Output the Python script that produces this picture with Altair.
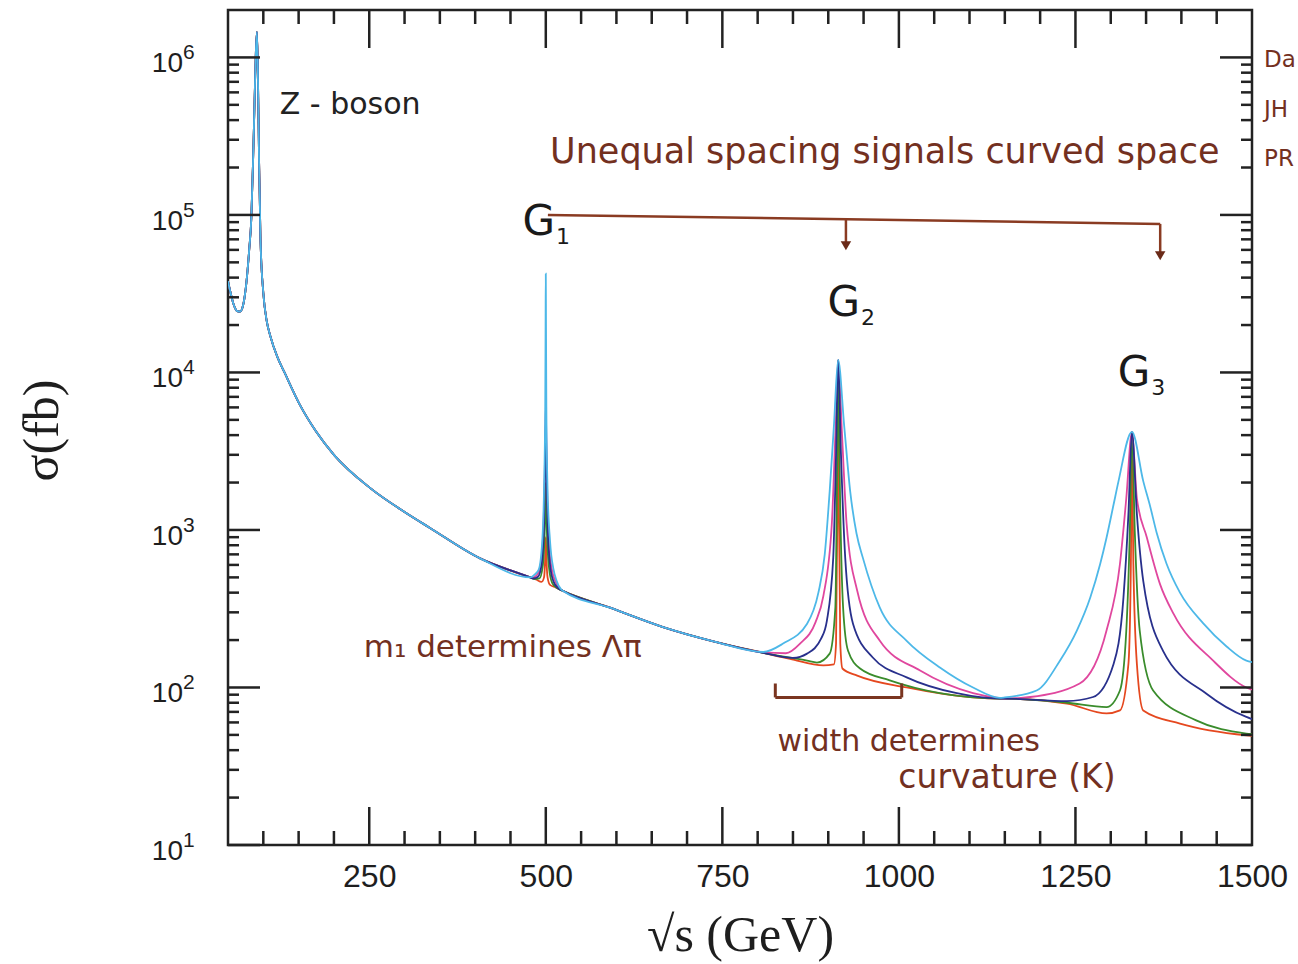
import altair as alt
import pandas as pd

# ---------------- data: sqrt(s) [GeV], sigma [fb] ----------------
# shared Drell-Yan background (incl. Z peak)
bg = [(50, 38000), (53, 33000), (58, 27000), (63, 24500), (67, 24300), (72, 27500),
      (76, 37000), (80, 60000), (83, 95000), (85.5, 220000), (87.5, 500000),
      (89.5, 1100000), (91, 1450000), (92.5, 700000), (94, 220000), (96, 70000),
      (100, 32000), (105, 21000), (110, 17000), (120, 12500), (130, 10000),
      (152, 6200), (175, 4200), (200, 3000), (251, 1850), (300, 1300), (336, 1030),
      (407, 660), (478, 500), (524, 411), (591, 321), (666, 242), (740, 195),
      (808, 166), (870, 148), (941, 122), (1011, 104), (1105, 90), (1143, 86),
      (1200, 82), (1238, 79), (1300, 70), (1400, 59), (1500, 49.5)]

# first graviton resonance G1 (~500 GeV)
cyan_g1 = [(478, 500), (485, 525), (490, 560), (495, 851), (497.5, 1800), (499.2, 6000),
           (499.7, 20000), (500, 42400), (500.3, 20000), (500.8, 6000), (502.5, 1800),
           (506, 851), (511, 560), (515, 480), (522, 418)]
magenta_g1 = [(480, 496), (487, 515), (492, 580), (496, 900), (498.3, 2000), (499.5, 4500),
              (500, 6000), (500.5, 4500), (501.7, 2000), (504, 900), (508, 580), (513, 480),
              (520, 422)]
navy_g1 = [(482, 492), (489, 505), (494, 600), (497.5, 1100), (499.3, 3000), (500, 5000),
           (500.7, 3000), (502.5, 1100), (506, 600), (511, 470), (518, 425)]
green_g1 = [(484, 488), (491, 492), (495.5, 580), (498.5, 1000), (500, 2000), (501.5, 1000),
            (504.5, 580), (509, 462), (516, 428)]
red_g1 = [(486, 485), (494, 468), (497.5, 500), (499.3, 700), (500, 900), (500.7, 700),
          (502.5, 500), (506, 448), (514, 432)]

# second resonance G2 (~914 GeV)
cyan_g2 = [(808, 168), (836, 190), (870, 254), (886, 400), (895, 700), (902, 1766),
           (908, 4600), (914, 12000), (922.5, 4600), (931, 1766), (940, 950), (949, 665),
           (973, 321), (1011, 198), (1058, 134), (1105, 100), (1143, 86)]
magenta_g2 = [(808, 167), (840, 165), (860, 190), (882, 260), (893, 380), (905, 1091),
              (910, 4000), (914, 12000), (919.5, 4000), (926, 1091), (941, 411), (973, 198),
              (1030, 128), (1105, 92), (1143, 85.5)]
navy_g2 = [(808, 166), (850, 154), (870, 164), (890, 205), (898, 265), (907, 665),
           (911, 3000), (914, 12000), (918, 3000), (924, 665), (935, 254), (963, 155),
           (1011, 116), (1082, 92), (1143, 85)]
green_g2 = [(808, 166), (870, 148), (884, 144), (902, 164), (910, 321), (912.5, 2500),
            (914, 12000), (916, 2500), (921, 321), (928, 171), (945, 132), (987, 111),
            (1058, 92), (1143, 85)]
red_g2 = [(808, 166), (846, 152), (893, 138), (908, 140), (911, 190), (913, 1500),
          (914, 10000), (915, 1500), (917, 190), (920, 132), (941, 119), (1011, 100),
          (1105, 86.5), (1143, 85)]

# third resonance G3 (~1330 GeV)
cyan_g3 = [(1150, 86.5), (1195, 95.7), (1228, 148), (1252, 230), (1271, 373), (1285, 608),
           (1294, 893), (1304, 1450), (1311, 2042), (1330, 4200), (1346, 2042), (1356, 1400),
           (1365, 960), (1379, 610), (1398, 400), (1431, 255), (1464, 182), (1492, 148),
           (1500, 145)]
magenta_g3 = [(1150, 85), (1186, 87), (1256, 106), (1294, 230), (1313, 608), (1322, 1590),
              (1330, 4200), (1337, 1590), (1351, 900), (1370, 450), (1389, 293), (1445, 148),
              (1492, 100), (1500, 97)]
navy_g3 = [(1150, 85), (1238, 82), (1275, 87), (1304, 141), (1318, 373), (1325, 1260),
           (1330, 4200), (1337, 1260), (1346, 475), (1374, 171), (1436, 91), (1492, 65),
           (1500, 63)]
green_g3 = [(1150, 85), (1238, 80), (1294, 75), (1313, 95.7), (1322, 230), (1327, 986),
            (1330, 4200), (1334, 986), (1341, 230), (1360, 95.7), (1421, 61.8), (1492, 51),
            (1500, 50.5)]
red_g3 = [(1150, 85), (1238, 79), (1294, 68.4), (1313, 71.5), (1325, 141), (1328.5, 608),
          (1330, 3800), (1332, 608), (1337, 141), (1346, 71.5), (1398, 59), (1492, 49.7),
          (1500, 49.3)]

# axis ticks / labels
x_label_values = [250, 500, 750, 1000, 1250, 1500]
x_major_ticks = [250, 500, 750, 1000, 1250]
x_minor_ticks = [100, 150, 200, 300, 350, 400, 450, 550, 600, 650, 700, 800, 850, 900, 950,
                 1050, 1100, 1150, 1200, 1300, 1350, 1400, 1450]
y_major_ticks = [10, 100, 1000, 10000, 100000, 1000000]
y_exponents = ["1", "2", "3", "4", "5", "6"]
y_minor_ticks = [20, 30, 40, 50, 60, 70, 80, 90,
                 200, 300, 400, 500, 600, 700, 800, 900,
                 2000, 3000, 4000, 5000, 6000, 7000, 8000, 9000,
                 20000, 30000, 40000, 50000, 60000, 70000, 80000, 90000,
                 200000, 300000, 400000, 500000, 600000, 700000, 800000, 900000]

# ---------------- helpers ----------------
W, H = 1024, 835
XS = alt.Scale(domain=[50, 1500], nice=False, zero=False)
YS = alt.Scale(type="log", domain=[10, 2e6], nice=False)
X_AX = alt.Axis(values=x_label_values, format="d", labelFontSize=32,
                labelFont="Liberation Sans", labelColor="#1e1e1e", tickSize=0, domain=False,
                grid=False, labelPadding=16, labelFlush=False, title="√s (GeV)",
                titleFont="Liberation Serif", titleFontSize=50, titleFontWeight="normal",
                titleColor="#1e1e1e", titleX=512, titleY=90, titleBaseline="middle",
                titleAlign="center")
Y_AX = alt.Axis(labels=False, ticks=False, domain=False, grid=False, title="σ(fb)",
                titleFont="Liberation Serif", titleFontSize=50, titleFontWeight="normal",
                titleColor="#1e1e1e", titleX=-186, titleY=420, titleAngle=270,
                titleBaseline="middle", titleAlign="center")

def X(f="x"):
    return alt.X(f"{f}:Q", scale=XS, axis=X_AX)

def Y(f="y"):
    return alt.Y(f"{f}:Q", scale=YS, axis=Y_AX)

def build(peaks):
    wins = [(p[0][0], p[-1][0]) for p in peaks]
    pts = [pt for pt in bg if not any(a <= pt[0] <= b for a, b in wins)]
    for p in peaks:
        pts += p
    pts.sort()
    return pd.DataFrame(pts, columns=["x", "y"])

curves = [
    ("#e5481f", [red_g1, red_g2, red_g3]),
    ("#3a8c2c", [green_g1, green_g2, green_g3]),
    ("#e0479e", [magenta_g1, magenta_g2, magenta_g3]),
    ("#28308c", [navy_g1, navy_g2, navy_g3]),
    ("#4db8e8", [cyan_g1, cyan_g2, cyan_g3]),
]

layers = []
for col, peaks in curves:
    layers.append(alt.Chart(build(peaks)).mark_line(color=col, strokeWidth=1.8,
                  interpolate="monotone", clip=True).encode(x=X(), y=Y()))

# ---------------- inward ticks on all four sides ----------------
TK = "#222222"
ymaj = pd.DataFrame({"v": y_major_ticks, "base": ["10"] * 6, "exp": y_exponents})
ymin = pd.DataFrame({"v": y_minor_ticks})
xmaj = pd.DataFrame({"v": x_major_ticks})
xmin = pd.DataFrame({"v": x_minor_ticks})
for df, ln in ((ymaj, 32), (ymin, 11)):
    layers.append(alt.Chart(df).mark_rule(color=TK, strokeWidth=2.5).encode(
        y=Y("v"), x=alt.value(0), x2=alt.value(ln)))
    layers.append(alt.Chart(df).mark_rule(color=TK, strokeWidth=2.5).encode(
        y=Y("v"), x=alt.value(W - ln), x2=alt.value(W)))
for df, ln in ((xmaj, 38), (xmin, 14)):
    layers.append(alt.Chart(df).mark_rule(color=TK, strokeWidth=2.5).encode(
        x=X("v"), y=alt.value(H - ln), y2=alt.value(H)))
    layers.append(alt.Chart(df).mark_rule(color=TK, strokeWidth=2.5).encode(
        x=X("v"), y=alt.value(0), y2=alt.value(ln)))

# y tick labels 10^n
layers.append(alt.Chart(ymaj).mark_text(align="right", baseline="alphabetic", fontSize=28,
              font="Liberation Sans", color="#1e1e1e", dy=15).encode(
    y=Y("v"), x=alt.value(-45), text="base:N"))
layers.append(alt.Chart(ymaj).mark_text(align="left", baseline="alphabetic", fontSize=21,
              font="Liberation Sans", color="#1e1e1e", dy=2).encode(
    y=Y("v"), x=alt.value(-45), text="exp:N"))

# ---------------- annotations ----------------
BROWN = "#73301f"
black_notes = pd.DataFrame({"t": ["Z - boson"], "x": [223], "y": [497000]})
layers.append(alt.Chart(black_notes).mark_text(font="DejaVu Sans", fontSize=30,
              color="#222222").encode(x=X(), y=Y(), text="t:N"))

g_notes = pd.DataFrame({"t": ["G", "G", "G"], "sub": ["1", "2", "3"],
                        "x": [513, 945, 1356], "y": [90300, 27400, 9860]})
layers.append(alt.Chart(g_notes).mark_text(font="DejaVu Sans", fontSize=42, align="right",
              baseline="middle", color="#1a1a1a").encode(x=X(), y=Y(), text="t:N"))
layers.append(alt.Chart(g_notes).mark_text(font="DejaVu Sans", fontSize=22, align="left",
              baseline="middle", dx=1, dy=15, color="#1a1a1a").encode(
    x=X(), y=Y(), text="sub:N"))

brown_notes = pd.DataFrame({
    "t": ["Unequal spacing signals curved space", "m₁ determines Λπ",
          "width determines", "curvature (K)"],
    "x": [980, 439, 1014, 1153],
    "y": [250000, 177, 44.9, 26.5],
    "s": [35, 31, 30, 33]})
for _, r in brown_notes.iterrows():
    layers.append(alt.Chart(pd.DataFrame([r])).mark_text(font="DejaVu Sans",
                  fontSize=int(r["s"]), color=BROWN).encode(x=X(), y=Y(), text="t:N"))

# reference text at the right margin (only its start is visible in the figure)
side_notes = pd.DataFrame({"t": ["Da", "JH", "PR"],
                           "x": [1517, 1517, 1517], "y": [970000, 462000, 226000]})
layers.append(alt.Chart(side_notes).mark_text(font="DejaVu Sans", fontSize=23, align="left",
              color=BROWN).encode(x=X(), y=Y(), text="t:N"))

# arrow: G1 -> G2 -> G3 spacing
seg = pd.DataFrame({"x": [503, 925, 1370], "x2": [1370, 925, 1370],
                    "y": [100000, 92900, 87700], "y2": [87700, 63700, 55100]})
layers.append(alt.Chart(seg).mark_rule(color="#8a3b22", strokeWidth=2.5).encode(
    x=X(), x2="x2:Q", y=Y(), y2="y2:Q"))
heads = pd.DataFrame({"x": [925, 1370], "y": [63700, 55100]})
layers.append(alt.Chart(heads).mark_point(shape="triangle-down", filled=True, size=110,
              color="#6a2a18", opacity=1).encode(x=X(), y=Y()))

# bracket under G2
brk = pd.DataFrame({"x": [825, 1004, 825], "x2": [825, 1004, 1004],
                    "y": [106, 106, 86.5], "y2": [86.5, 86.5, 86.5]})
layers.append(alt.Chart(brk).mark_rule(color="#7a3520", strokeWidth=3).encode(
    x=X(), x2="x2:Q", y=Y(), y2="y2:Q"))

chart = alt.layer(*layers).properties(
    width=W, height=H,
    autosize=alt.AutoSizeParams(type="none"),
    padding={"left": 228, "top": 10, "right": 46, "bottom": 119},
    background="white",
).configure_view(stroke="#222222", strokeWidth=2.5)

chart.save("out.html", embed_options={"renderer": "svg", "actions": False})
